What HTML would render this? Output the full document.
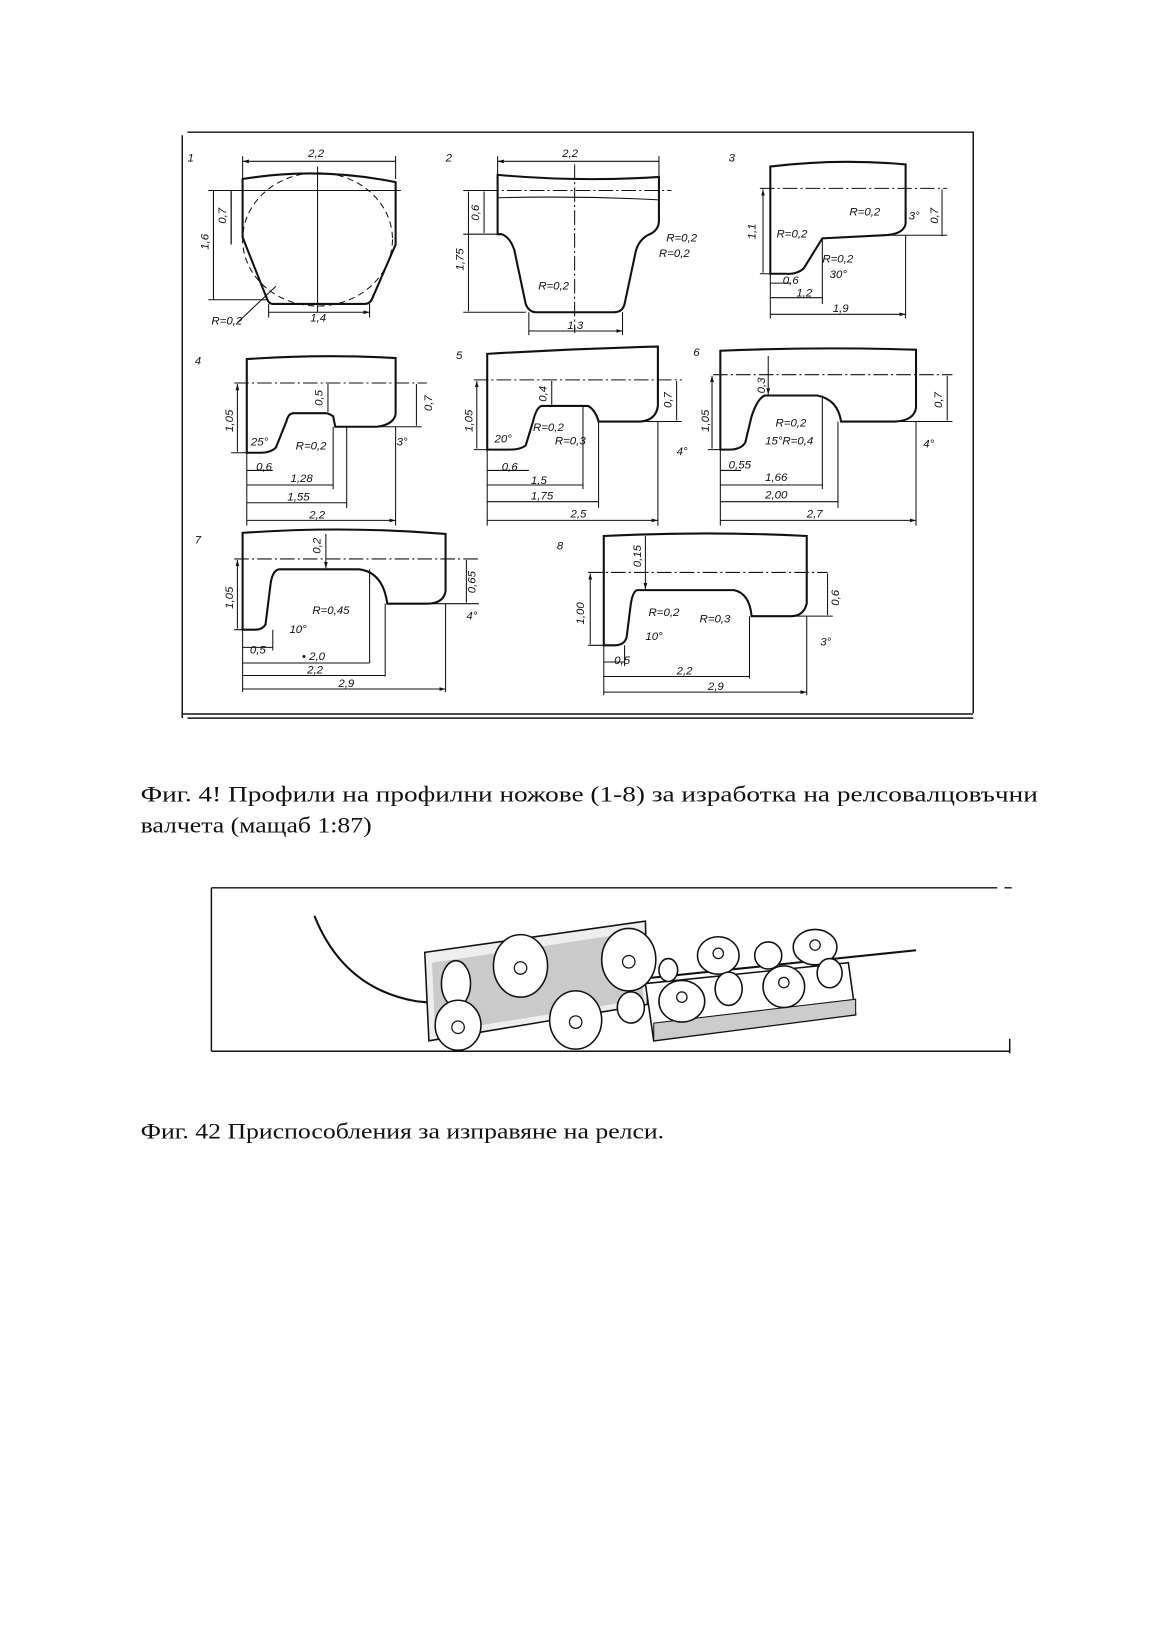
<!DOCTYPE html>
<html><head><meta charset="utf-8"><style>
html,body{margin:0;padding:0;background:#fff}
svg{display:block}
.l{stroke:#111;stroke-width:1.4;fill:none}
.t{stroke:#111;stroke-width:2;fill:none}
.d{stroke:#111;stroke-width:1;fill:none}
.dd{stroke:#111;stroke-width:1;fill:none;stroke-dasharray:14 3 2 3}
.n{font-family:"Liberation Sans",sans-serif;font-style:italic;font-size:11px;fill:#111}
.c{font-family:"Liberation Serif","DejaVu Serif",serif;font-size:21px;fill:#111}
</style></head><body>
<svg width="1168" height="1632" viewBox="0 0 1122 1568" xmlns="http://www.w3.org/2000/svg">
<defs><marker id="a" viewBox="0 0 10 10" refX="10" refY="5" markerWidth="6" markerHeight="6" orient="auto-start-reverse"><path d="M0,2 L10,5 L0,8z" fill="#111"/></marker></defs>
<!-- frame -->
<path class="l" d="M180,127 H935 V685 M175,130 V690 M175,686 H935 M180,690 H935"/>
<g class="n" font-size="13"><text x="180" y="155">1</text><text x="428" y="155">2</text><text x="700" y="155">3</text><text x="187" y="350">4</text><text x="438" y="345">5</text><text x="666" y="342">6</text><text x="187" y="522">7</text><text x="535" y="528">8</text></g>

<!-- FIG 1 -->
<path class="t" d="M233,172 Q305,160 380,175 V235 L357,288 Q355,292 350,292 H262 Q258,292 256,286 L233,228 Z"/>
<ellipse cx="305" cy="230" rx="72" ry="64" class="d" stroke-dasharray="6 4"/>
<path class="d" d="M305,160 V300 M200,183 H385 M200,288 H258 M205,183 V288 M222,183 V235 M233,150 V172 M380,150 V172 M258,292 V305 M355,292 V305"/>
<path class="d" marker-start="url(#a)" marker-end="url(#a)" d="M233,155 H380 M205,184 V287 M222,184 V234 M258,300 H355"/>
<path class="d" d="M228,310 L265,275"/>
<g class="n"><text x="296" y="151">2,2</text><text x="200" y="240" transform="rotate(-90 200 240)">1,6</text><text x="217" y="215" transform="rotate(-90 217 215)">0,7</text><text x="298" y="309">1,4</text><text x="203" y="312">R=0,2</text></g>

<!-- FIG 2 -->
<path class="t" d="M478,168 Q555,175 633,170 V212 Q633,222 622,226 Q612,232 610,245 L600,292 Q598,300 590,300 H515 Q508,300 505,292 L494,240 Q490,228 482,225 H478 Z"/>
<path class="d" d="M478,190 Q555,188 633,192"/>
<path class="dd" d="M465,183 H645 M552,158 V320"/>
<path class="d" d="M478,150 V168 M633,150 V170 M445,183 H478 M445,300 H505 M445,225 H478 M508,300 V322 M598,300 V322"/>
<path class="d" marker-start="url(#a)" marker-end="url(#a)" d="M478,155 H633 M450,184 V299 M465,184 V224 M508,318 H598"/>
<g class="n"><text x="540" y="151">2,2</text><text x="445" y="260" transform="rotate(-90 445 260)">1,75</text><text x="460" y="212" transform="rotate(-90 460 212)">0,6</text><text x="545" y="316">1,3</text><text x="517" y="278">R=0,2</text><text x="640" y="232">R=0,2</text><text x="633" y="247">R=0,2</text></g>

<!-- FIG 3 -->
<path class="t" d="M740,160 Q805,152 870,158 V215 Q868,225 850,226 L790,229 L772,258 Q765,264 755,263 H740 Z"/>
<path class="dd" d="M730,181 H910"/>
<path class="d" d="M790,229 V292 M870,226 V306 M740,263 V306 M850,226 H910 M730,263 H742"/>
<path class="d" marker-start="url(#a)" marker-end="url(#a)" d="M733,182 V262 M905,182 V227 M740,272 H760 M740,286 H790 M740,302 H870"/>
<g class="n"><text x="726" y="230" transform="rotate(-90 726 230)">1,1</text><text x="901" y="215" transform="rotate(-90 901 215)">0,7</text><text x="816" y="207">R=0,2</text><text x="746" y="228">R=0,2</text><text x="790" y="252">R=0,2</text><text x="797" y="267">30°</text><text x="752" y="273">0,6</text><text x="765" y="285">1,2</text><text x="800" y="300">1,9</text><text x="873" y="211">3°</text></g>

<!-- FIG 4 -->
<path class="t" d="M237,345 Q310,340 380,344 V398 Q378,408 362,410 H322 L320,400 Q316,397 312,397 H282 Q277,397 275,405 L265,430 Q260,435 250,435 H237 Z"/>
<path class="dd" d="M225,368 H410"/>
<path class="d" d="M237,435 V505 M320,410 V470 M333,410 V488 M380,410 V505 M222,435 H240 M362,410 H405"/>
<path class="d" marker-start="url(#a)" marker-end="url(#a)" d="M228,369 V434 M315,369 V396 M400,369 V409 M237,452 H262 M237,466 H320 M237,483 H333 M237,500 H380"/>
<g class="n"><text x="224" y="415" transform="rotate(-90 224 415)">1,05</text><text x="310" y="390" transform="rotate(-90 310 390)">0,5</text><text x="415" y="395" transform="rotate(-90 415 395)">0,7</text><text x="241" y="428">25°</text><text x="284" y="432">R=0,2</text><text x="381" y="428">3°</text><text x="246" y="452">0,6</text><text x="279" y="463">1,28</text><text x="276" y="481">1,55</text><text x="297" y="498">2,2</text></g>

<!-- FIG 5 -->
<path class="t" d="M468,340 Q550,335 632,333 V390 Q630,404 615,405 H575 Q572,394 565,390 H520 Q515,392 512,405 L505,428 Q500,432 490,432 H468 Z"/>
<path class="dd" d="M455,365 H655"/>
<path class="d" d="M468,432 V505 M560,390 V470 M575,405 V488 M632,405 V505 M455,432 H470 M615,405 H655"/>
<path class="d" marker-start="url(#a)" marker-end="url(#a)" d="M458,366 V431 M530,366 V389 M650,366 V404 M468,452 H508 M468,466 H560 M468,482 H575 M468,500 H632"/>
<g class="n"><text x="454" y="415" transform="rotate(-90 454 415)">1,05</text><text x="525" y="386" transform="rotate(-90 525 386)">0,4</text><text x="645" y="392" transform="rotate(-90 645 392)">0,7</text><text x="475" y="425">20°</text><text x="512" y="414">R=0,2</text><text x="533" y="427">R=0,3</text><text x="650" y="437">4°</text><text x="482" y="452">0,6</text><text x="510" y="465">1,5</text><text x="510" y="480">1,75</text><text x="548" y="497">2,5</text></g>

<!-- FIG 6 -->
<path class="t" d="M692,337 Q785,333 880,336 V392 Q878,404 860,405 H808 Q805,384 785,380 H735 Q728,382 722,400 L716,425 Q712,432 700,432 H692 Z"/>
<path class="dd" d="M685,360 H915"/>
<path class="d" d="M692,432 V505 M790,380 V470 M805,405 V488 M880,405 V505 M680,432 H695 M860,405 H915"/>
<path class="d" marker-start="url(#a)" marker-end="url(#a)" d="M684,361 V431 M910,361 V404 M692,452 H712 M692,466 H790 M692,482 H805 M692,500 H880"/>
<path class="d" marker-end="url(#a)" d="M738,342 V379"/>
<g class="n"><text x="681" y="415" transform="rotate(-90 681 415)">1,05</text><text x="735" y="378" transform="rotate(-90 735 378)">0,3</text><text x="905" y="392" transform="rotate(-90 905 392)">0,7</text><text x="745" y="410">R=0,2</text><text x="735" y="427">15°R=0,4</text><text x="887" y="430">4°</text><text x="700" y="450">0,55</text><text x="735" y="462">1,66</text><text x="735" y="479">2,00</text><text x="775" y="497">2,7</text></g>

<!-- FIG 7 -->
<path class="t" d="M233,512 Q330,505 428,513 V568 Q426,580 410,580 H372 Q368,550 345,547 H268 Q262,548 260,560 L255,600 Q252,605 245,605 H233 Z"/>
<path class="dd" d="M225,537 H460"/>
<path class="d" d="M233,605 V665 M262,605 V625 M355,547 V637 M370,580 V650 M428,580 V665 M410,580 H460 M225,605 H235"/>
<path class="d" marker-start="url(#a)" marker-end="url(#a)" d="M228,538 V604 M448,538 V579 M233,622 H262 M233,637 H355 M233,649 H370 M233,662 H428"/>
<path class="d" marker-end="url(#a)" d="M313,513 V546"/>
<g class="n"><text x="224" y="585" transform="rotate(-90 224 585)">1,05</text><text x="308" y="532" transform="rotate(-90 308 532)">0,2</text><text x="457" y="570" transform="rotate(-90 457 570)">0,65</text><text x="300" y="590">R=0,45</text><text x="278" y="608">10°</text><text x="240" y="628">0,5</text><text x="290" y="634">• 2,0</text><text x="295" y="647">2,2</text><text x="325" y="660">2,9</text><text x="448" y="595">4°</text></g>

<!-- FIG 8 -->
<path class="t" d="M580,515 Q680,510 775,515 V580 Q772,592 760,592 H722 Q720,570 705,567 H612 Q608,568 606,580 L602,612 Q600,620 590,620 H580 Z"/>
<path class="dd" d="M565,550 H795"/>
<path class="d" d="M580,620 V668 M600,620 V640 M720,592 V652 M775,592 V668 M760,592 H800 M565,620 H582"/>
<path class="d" marker-start="url(#a)" marker-end="url(#a)" d="M567,551 V619 M795,551 V591 M580,636 H600 M580,650 H720 M580,665 H775"/>
<path class="d" marker-end="url(#a)" d="M620,515 V566"/>
<g class="n"><text x="561" y="600" transform="rotate(-90 561 600)">1,00</text><text x="616" y="545" transform="rotate(-90 616 545)">0,15</text><text x="806" y="582" transform="rotate(-90 806 582)">0,6</text><text x="623" y="592">R=0,2</text><text x="672" y="598">R=0,3</text><text x="620" y="615">10°</text><text x="590" y="638">0,5</text><text x="650" y="648">2,2</text><text x="680" y="663">2,9</text><text x="788" y="620">3°</text></g>

<!-- captions -->
<text class="c" x="135" y="770" textLength="862" lengthAdjust="spacingAndGlyphs">Фиг. 4! Профили на профилни ножове (1-8)  за изработка на релсовалцовъчни</text>
<text class="c" x="135" y="800" textLength="222" lengthAdjust="spacingAndGlyphs">валчета (мащаб 1:87)</text>

<!-- FIG 42 -->
<path class="l" d="M203,853 H958 M965,853 H972 M203,853 V1010 M203,1010 H970 M970,998 V1012"/>
<path class="t" d="M302,880 Q330,950 400,962 L410,963 M620,940 L880,913"/>
<path fill="#eee" stroke="#111" stroke-width="1.5" d="M408,915 L620,885 L622,965 L412,1000 Z"/>
<path fill="#888" opacity="0.35" d="M415,925 L615,895 L618,960 L418,992 Z"/>
<path fill="#fff" stroke="#111" stroke-width="1.5" d="M620,945 L815,925 L822,975 L628,1000 Z"/>
<path fill="#ccc" stroke="#111" stroke-width="1" d="M628,983 L822,960 L822,975 L628,1000 Z"/>
<g fill="#fff" stroke="#111" stroke-width="1.5">
<ellipse cx="438" cy="945" rx="14" ry="22"/><ellipse cx="440" cy="985" rx="22" ry="24"/>
<ellipse cx="500" cy="928" rx="26" ry="30"/><ellipse cx="553" cy="980" rx="25" ry="28"/>
<ellipse cx="604" cy="922" rx="26" ry="30"/><ellipse cx="606" cy="968" rx="13" ry="15"/>
<ellipse cx="642" cy="932" rx="9" ry="11"/><ellipse cx="655" cy="962" rx="22" ry="20"/>
<ellipse cx="690" cy="918" rx="20" ry="18"/><ellipse cx="700" cy="950" rx="13" ry="16"/>
<ellipse cx="738" cy="918" rx="13" ry="13"/><ellipse cx="753" cy="948" rx="20" ry="20"/>
<ellipse cx="783" cy="910" rx="21" ry="17"/><ellipse cx="797" cy="935" rx="12" ry="14"/>
</g>
<g fill="#fff" stroke="#111" stroke-width="1.2">
<circle cx="440" cy="987" r="6"/><circle cx="500" cy="930" r="6"/><circle cx="553" cy="982" r="6"/><circle cx="604" cy="924" r="6"/><circle cx="655" cy="958" r="5"/><circle cx="690" cy="916" r="5"/><circle cx="753" cy="944" r="5"/><circle cx="783" cy="908" r="5"/>
</g>
<text class="c" x="135" y="1094" textLength="503" lengthAdjust="spacingAndGlyphs">Фиг. 42 Приспособления за изправяне на релси.</text>
</svg>
</body></html>
